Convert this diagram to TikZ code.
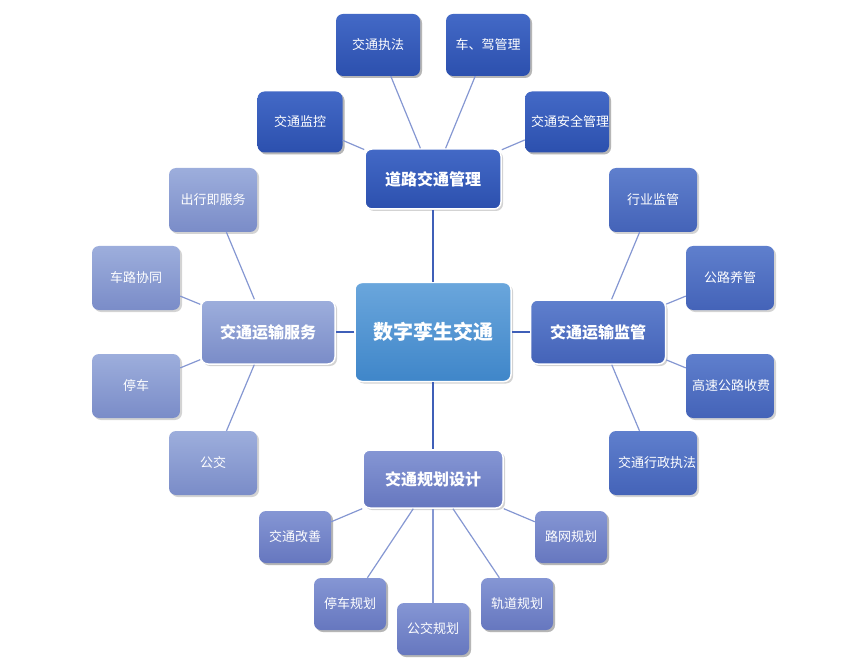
\documentclass[tikz,border=0pt]{standalone}
\usepackage{fontspec}
\setmainfont{Noto Sans CJK SC}
\usetikzlibrary{shadows}
\definecolor{cT}{HTML}{6AA6DC}\definecolor{cB}{HTML}{3F86C9}
\definecolor{tT}{HTML}{4369C6}\definecolor{tB}{HTML}{2C50AE}
\definecolor{rT}{HTML}{5F7FCD}\definecolor{rB}{HTML}{4463B8}
\definecolor{lT}{HTML}{9DAEDC}\definecolor{lB}{HTML}{7A8CC8}
\definecolor{bT}{HTML}{8596D4}\definecolor{bB}{HTML}{6677BF}
\definecolor{ln}{HTML}{8597D2}\definecolor{hn}{HTML}{3F5FB8}
\begin{document}
\begin{tikzpicture}[x=1pt,y=-1pt,
 box/.style={rounded corners=7pt,minimum width=#1,text=white,align=center,drop shadow={opacity=0.35,shadow xshift=2pt,shadow yshift=-2pt},inner sep=2pt,font=\fontsize{13}{18}\selectfont},
 hub/.style={box=#1,draw=white,line width=1.5pt,font=\bfseries\fontsize{16}{20}\selectfont},
 lf/.style={box=88pt,minimum height=64pt,text width=80pt},
 sl/.style={lf,box=72pt,minimum height=52pt,text width=66pt},
 T/.style={top color=tT,bottom color=tB},R/.style={top color=rT,bottom color=rB},
 L/.style={top color=lT,bottom color=lB},B/.style={top color=bT,bottom color=bB},
 e/.style={draw=ln,line width=1.2pt},h/.style={draw=hn,line width=1.2pt}]
\useasboundingbox (0,0) rectangle (867,668);
\node[hub=156pt,minimum height=99pt,top color=cT,bottom color=cB,font=\bfseries\fontsize{20}{24}\selectfont] (c) at (433,332) {数字孪生交通};
\node[hub=136pt,minimum height=60pt,T] (t) at (433,179) {道路交通管理};
\node[hub=134pt,minimum height=64pt,L] (l) at (268,332) {交通运输服务};
\node[hub=135pt,minimum height=64pt,R] (r) at (598,332) {交通运输监管};
\node[hub=140pt,minimum height=58pt,B] (b) at (433,479) {交通规划设计};
\node[lf,box=84pt,minimum height=62pt,T] (t1) at (378,45) {交通执法};
\node[lf,box=84pt,minimum height=62pt,T] (t2) at (488,45) {车、驾管理};
\node[lf,box=85pt,minimum height=61pt,T] (t3) at (300,122) {交通监控};
\node[lf,box=84pt,minimum height=61pt,text width=72pt,T] (t4) at (567,122) {交通安全管理};
\node[lf,R] (r1) at (653,200) {行业监管};
\node[lf,R] (r2) at (730,278) {公路养管};
\node[lf,R,text width=76pt] (r3) at (730,386) {高速公路收费};
\node[lf,R,text width=70pt] (r4) at (653,463) {交通行政执法};
\node[lf,L] (l1) at (213,200) {出行即服务};
\node[lf,L] (l2) at (136,278) {车路协同};
\node[lf,L] (l3) at (136,386) {停车};
\node[lf,L] (l4) at (213,463) {公交};
\node[sl,B] (b1) at (295,537) {交通改善};
\node[sl,B] (b2) at (350,604) {停车规划};
\node[sl,B] (b3) at (433,629) {公交规划};
\node[sl,B] (b4) at (517,604) {轨道规划};
\node[sl,B] (b5) at (571,537) {路网规划};
\begin{scope}[on background layer/.try]
\end{scope}
\foreach \a in {t,l,r,b} \draw[h] (c) -- (\a);
\foreach \a/\hh in {t1/t,t2/t,t3/t,t4/t,r1/r,r2/r,r3/r,r4/r,l1/l,l2/l,l3/l,l4/l,b1/b,b2/b,b3/b,b4/b,b5/b} \draw[e] (\a) -- (\hh);
\end{tikzpicture}
\end{document}
